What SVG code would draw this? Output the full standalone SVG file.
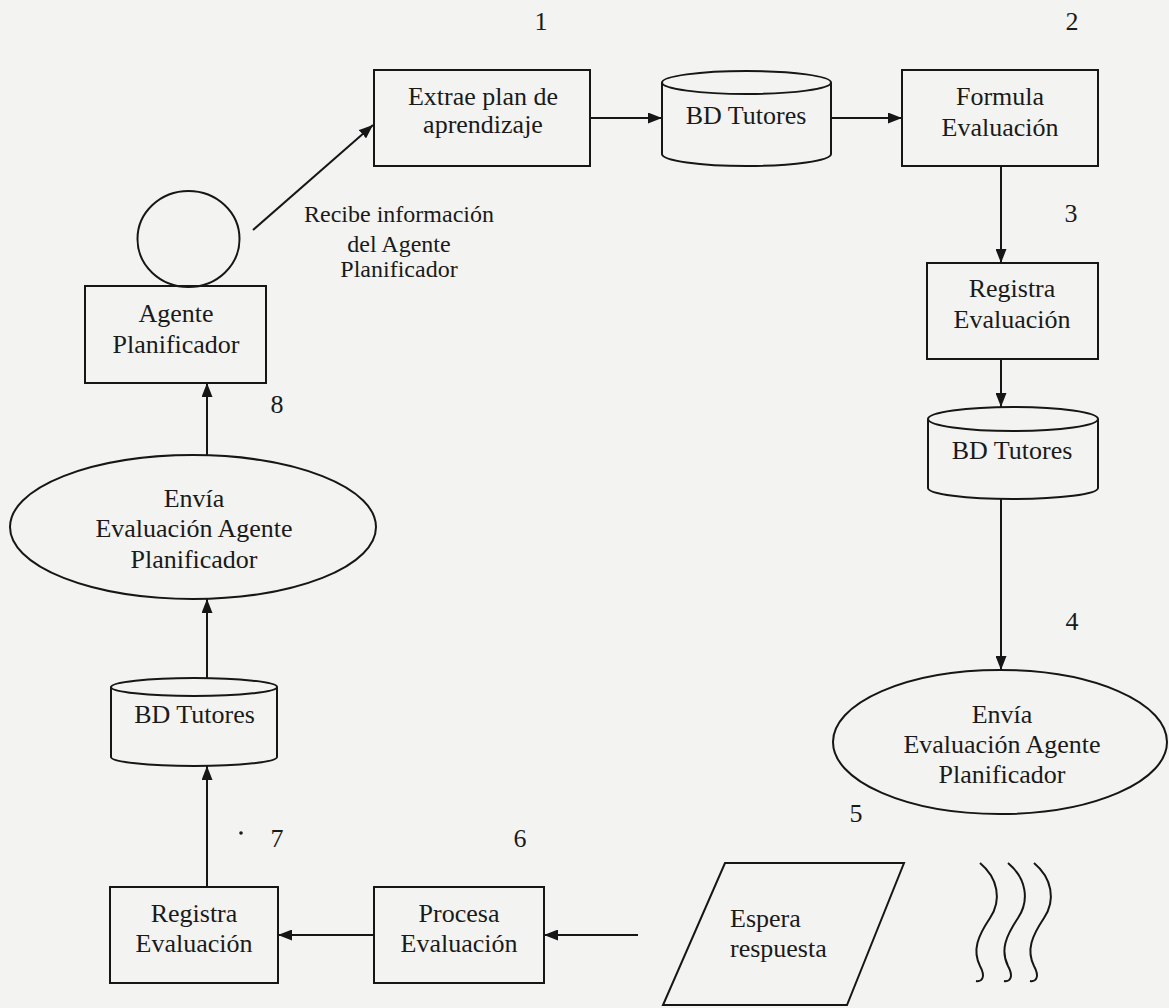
<svg xmlns="http://www.w3.org/2000/svg" width="1169" height="1008" viewBox="0 0 1169 1008">
  <defs>
    <marker id="arrow" viewBox="0 0 14 11" refX="14" refY="5.5" markerWidth="14" markerHeight="11" markerUnits="userSpaceOnUse" orient="auto">
      <path d="M0,0 L14,5.5 L0,11 z" fill="#161616"/>
    </marker>
    <style>
      .shape { fill: none; stroke: #161616; stroke-width: 2; }
      .link { fill: none; stroke: #161616; stroke-width: 2; marker-end: url(#arrow); }
      .lbl { font-family: "Liberation Serif", "Times New Roman", serif; font-size: 26px; fill: #1a1a1a; text-anchor: middle; }
      .small { font-size: 24px; }
      .left { text-anchor: start; }
    </style>
  </defs>

  <rect x="0" y="0" width="1169" height="1008" fill="#f3f3f1"/>

  <!-- step numbers -->
  <g id="numbers" class="lbl">
    <text x="541" y="30">1</text>
    <text x="1072" y="30">2</text>
    <text x="1071" y="222">3</text>
    <text x="1072" y="630">4</text>
    <text x="856" y="822">5</text>
    <text x="520" y="847">6</text>
    <text x="277" y="847">7</text>
    <text x="277" y="413">8</text>
    <circle cx="241" cy="833" r="1.8" fill="#1a1a1a"/>
  </g>

  <!-- connectors -->
  <g id="connectors">
    <line class="link" x1="253" y1="230" x2="373" y2="125"/>
    <line class="link" x1="590" y1="118" x2="662" y2="118"/>
    <line class="link" x1="831" y1="118" x2="902" y2="118"/>
    <line class="link" x1="1001" y1="166" x2="1001" y2="263"/>
    <line class="link" x1="1001" y1="359" x2="1001" y2="407"/>
    <line class="link" x1="1001" y1="499" x2="1001" y2="670"/>
    <line class="link" x1="638" y1="935" x2="544" y2="935"/>
    <line class="link" x1="374" y1="935" x2="278" y2="935"/>
    <line class="link" x1="207" y1="887" x2="207" y2="766"/>
    <line class="link" x1="207" y1="678" x2="207" y2="599"/>
    <line class="link" x1="207" y1="455" x2="207" y2="383"/>
    <g id="waves" class="shape" stroke-width="1.6">
      <path d="M980,863 C998,878 1002,900 990,918 C978,936 972,950 980,966 C986,977 982,982 976,981"/>
      <path d="M1008,863 C1026,878 1030,900 1018,918 C1006,936 1000,950 1008,966 C1014,977 1010,982 1004,981"/>
      <path d="M1034,863 C1052,878 1056,900 1044,918 C1032,936 1026,950 1034,966 C1040,977 1036,982 1030,981"/>
    </g>
  </g>

  <!-- agent symbol -->
  <g id="agente-icono">
    <ellipse class="shape" cx="188.5" cy="239" rx="51" ry="48"/>
  </g>

  <g id="agente-planificador">
    <rect class="shape" x="85" y="286" width="181" height="97"/>
    <text class="lbl" x="176" y="322">Agente</text>
    <text class="lbl" x="176" y="353">Planificador</text>
  </g>

  <g id="recibe-info" class="lbl small">
    <text x="399" y="222">Recibe información</text>
    <text x="399" y="252">del Agente</text>
    <text x="399" y="277">Planificador</text>
  </g>

  <g id="extrae-plan">
    <rect class="shape" x="374" y="70" width="216" height="96"/>
    <text class="lbl" x="483" y="105">Extrae plan de</text>
    <text class="lbl" x="483" y="133">aprendizaje</text>
  </g>

  <g id="bd-tutores-1">
    <path class="shape" d="M662,82.5 A84.5,11.5 0 0 1 831,82.5 A84.5,11.5 0 0 1 662,82.5 Z M662,82.5 V154 A84.5,12 0 0 0 831,154 V82.5"/>
    <text class="lbl" x="746" y="124">BD Tutores</text>
  </g>

  <g id="formula-evaluacion">
    <rect class="shape" x="902" y="70" width="196" height="96"/>
    <text class="lbl" x="1000" y="105">Formula</text>
    <text class="lbl" x="1000" y="136">Evaluación</text>
  </g>

  <g id="registra-evaluacion-1">
    <rect class="shape" x="927" y="263" width="171" height="96"/>
    <text class="lbl" x="1012" y="297">Registra</text>
    <text class="lbl" x="1012" y="328">Evaluación</text>
  </g>

  <g id="bd-tutores-2">
    <path class="shape" d="M928,419 A85,12 0 0 1 1098,419 A85,12 0 0 1 928,419 Z M928,419 V488 A85,11 0 0 0 1098,488 V419"/>
    <text class="lbl" x="1012" y="459">BD Tutores</text>
  </g>

  <g id="envia-evaluacion-1">
    <ellipse class="shape" cx="1000" cy="742" rx="167" ry="72"/>
    <text class="lbl" x="1002" y="723">Envía</text>
    <text class="lbl" x="1002" y="753">Evaluación Agente</text>
    <text class="lbl" x="1002" y="783">Planificador</text>
  </g>

  <g id="espera-respuesta">
    <polygon class="shape" points="725,863 904,863 847,1005 663,1005"/>
    <text class="lbl left" x="730" y="927">Espera</text>
    <text class="lbl left" x="730" y="957">respuesta</text>
  </g>

  <g id="procesa-evaluacion">
    <rect class="shape" x="374" y="887" width="170" height="96"/>
    <text class="lbl" x="459" y="922">Procesa</text>
    <text class="lbl" x="459" y="952">Evaluación</text>
  </g>

  <g id="registra-evaluacion-2">
    <rect class="shape" x="110" y="887" width="168" height="96"/>
    <text class="lbl" x="194" y="922">Registra</text>
    <text class="lbl" x="194" y="952">Evaluación</text>
  </g>

  <g id="bd-tutores-3">
    <path class="shape" d="M111,687 A83,9 0 0 1 277,687 A83,9 0 0 1 111,687 Z M111,687 V757 A83,9 0 0 0 277,757 V687"/>
    <text class="lbl" x="194.5" y="723">BD Tutores</text>
  </g>

  <g id="envia-evaluacion-2">
    <ellipse class="shape" cx="193" cy="527" rx="183" ry="72"/>
    <text class="lbl" x="194" y="507">Envía</text>
    <text class="lbl" x="194" y="537">Evaluación Agente</text>
    <text class="lbl" x="194" y="568">Planificador</text>
  </g>
</svg>
